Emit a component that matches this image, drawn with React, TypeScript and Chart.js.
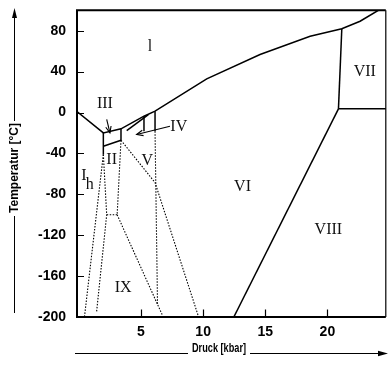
import React, { useEffect, useRef } from 'react';
import { Chart, registerables } from 'chart.js';

Chart.register(...registerables);

type P = [number, number];

// axis ticks
const xTickValues = [5, 10, 15, 20];
const yTickValues = [-200, -160, -120, -80, -40, 0, 40, 80];

// solid phase boundaries (pressure kbar, temperature °C)
const meltingCurve: P[] = [[-0.15, 1], [1.97, -19.9], [3.39, -15.9], [5.24, -3.6], [6.13, 1.3], [10.29, 33.0], [14.58, 56.7], [18.61, 74.6], [21.16, 81.9], [22.63, 89.3], [24.1, 100]];
const ihIIIBoundary: P[] = [[1.97, -19.9], [1.97, -41]];
const iiIIIBoundary: P[] = [[1.97, -33], [3.39, -27.1]];
const iiiVBoundary: P[] = [[3.39, -15.9], [3.39, -27.1]];
const vVIBoundary: P[] = [[6.13, 1.3], [6.13, -18.3]];
const ivVertical: P[] = [[5.24, -3.6], [5.24, -18.3]];
const ivDiagonal: P[] = [[3.85, -17.6], [5.59, -2.0]];
const viVIIBoundary: P[] = [[21.16, 81.9], [20.89, 3.6]];
const viiVIIIBoundary: P[] = [[20.89, 3.6], [24.8, 3.6]];
const viVIIIBoundary: P[] = [[20.89, 3.6], [12.47, -200]];

// dotted (metastable) boundaries
const dottedA: P[] = [[1.97, -41], [0.45, -200]];
const dottedB: P[] = [[1.97, -41], [2.24, -100], [1.43, -194.6]];
const dottedBox: P[] = [[2.24, -100], [3.08, -100]];
const dottedC: P[] = [[3.39, -27.1], [3.08, -100]];
const dottedD: P[] = [[3.08, -100], [6.75, -199]];
const dottedEG: P[] = [[3.39, -27.1], [6.13, -68.5], [9.61, -199]];
const dottedF: P[] = [[6.13, -18.3], [6.33, -188]];

// arrows (from, to)
const arrowIII: P[] = [[2.24, -6.8], [2.5, -19.9]];
const arrowIV: P[] = [[7.33, -13.4], [4.65, -21.5]];

// region labels: text, pressure, temperature
const labelTexts = ['l', 'III', 'IV', 'II', 'V', 'I', 'h', 'VI', 'VII', 'VIII', 'IX'];
const labelP = [5.72, 2.1, 8.04, 2.64, 5.5, 0.41, 0.87, 13.17, 23.01, 20.08, 3.57];
const labelT = [65.5, 9.3, -13.4, -45, -46.5, -60.6, -69.4, -72.1, 40.6, -113.9, -170];

const solidLines = [meltingCurve, ihIIIBoundary, iiIIIBoundary, iiiVBoundary, vVIBoundary, ivVertical, ivDiagonal, viVIIBoundary, viiVIIIBoundary, viVIIIBoundary];
const dottedLines = [dottedA, dottedB, dottedBox, dottedC, dottedD, dottedEG, dottedF];
const arrowLines = [arrowIII, arrowIV];

const toXY = (pts: P[]) => pts.map(([x, y]) => ({ x, y }));

const overlay = {
  id: 'overlay',
  afterDatasetsDraw(chart: any) {
    const { ctx, chartArea: a, scales } = chart;
    const xs = scales.x;
    const ys = scales.y;
    ctx.save();
    ctx.strokeStyle = '#000';
    ctx.fillStyle = '#000';
    ctx.setLineDash([]);

    // frame
    ctx.lineWidth = 2;
    ctx.beginPath();
    ctx.moveTo(a.right, a.top);
    ctx.lineTo(a.left, a.top);
    ctx.lineTo(a.left, a.bottom);
    ctx.lineTo(a.right, a.bottom);
    ctx.stroke();
    ctx.lineWidth = 1.2;
    ctx.beginPath();
    ctx.moveTo(a.right, a.top);
    ctx.lineTo(a.right, a.bottom);
    ctx.stroke();

    // inner ticks
    ctx.lineWidth = 1.2;
    ctx.beginPath();
    for (const v of yTickValues) {
      const py = Math.round(ys.getPixelForValue(v)) + 0.5;
      ctx.moveTo(a.left, py);
      ctx.lineTo(a.left + 7, py);
    }
    for (const v of xTickValues) {
      const px = Math.round(xs.getPixelForValue(v)) + 0.5;
      ctx.moveTo(px, a.bottom);
      ctx.lineTo(px, a.bottom - 7.5);
    }
    ctx.stroke();

    // arrowheads
    ctx.lineWidth = 1.1;
    for (const ar of arrowLines) {
      const [p0, p1] = [ar[ar.length - 2], ar[ar.length - 1]];
      const x0 = xs.getPixelForValue(p0[0]), y0 = ys.getPixelForValue(p0[1]);
      const x1 = xs.getPixelForValue(p1[0]), y1 = ys.getPixelForValue(p1[1]);
      const ang = Math.atan2(y1 - y0, x1 - x0);
      const L = 7, w = 0.4;
      ctx.beginPath();
      ctx.moveTo(x1 - L * Math.cos(ang - w), y1 - L * Math.sin(ang - w));
      ctx.lineTo(x1, y1);
      ctx.lineTo(x1 - L * Math.cos(ang + w), y1 - L * Math.sin(ang + w));
      ctx.stroke();
    }

    // region labels
    ctx.font = '16px "Liberation Serif", "DejaVu Serif", serif';
    ctx.textAlign = 'center';
    ctx.textBaseline = 'middle';
    ctx.fillStyle = '#111';
    labelTexts.forEach((t, i) => {
      ctx.fillText(t, xs.getPixelForValue(labelP[i]), ys.getPixelForValue(labelT[i]) + 1);
    });

    // y axis title with arrow line
    ctx.fillStyle = '#000';
    ctx.lineWidth = 1;
    ctx.beginPath();
    ctx.moveTo(14.5, 313);
    ctx.lineTo(14.5, 216);
    ctx.moveTo(14.5, 121);
    ctx.lineTo(14.5, 16);
    ctx.stroke();
    ctx.beginPath();
    ctx.moveTo(14.5, 8);
    ctx.lineTo(12, 18);
    ctx.lineTo(17, 18);
    ctx.closePath();
    ctx.fill();
    ctx.save();
    ctx.translate(14.5, 168);
    ctx.rotate(-Math.PI / 2);
    ctx.font = 'bold 12px "Liberation Sans", Arial, sans-serif';
    ctx.textAlign = 'center';
    ctx.textBaseline = 'middle';
    ctx.fillText('Temperatur [°C]', 0, 0, 90);
    ctx.restore();

    // x axis title with arrow line
    ctx.beginPath();
    ctx.moveTo(75, 353.5);
    ctx.lineTo(188, 353.5);
    ctx.moveTo(250, 353.5);
    ctx.lineTo(380, 353.5);
    ctx.stroke();
    ctx.beginPath();
    ctx.moveTo(388, 353.5);
    ctx.lineTo(378, 350.8);
    ctx.lineTo(378, 356.2);
    ctx.closePath();
    ctx.fill();
    ctx.font = 'bold 12px "Liberation Sans", Arial, sans-serif';
    ctx.textAlign = 'center';
    ctx.textBaseline = 'middle';
    ctx.fillText('Druck [kbar]', 219, 349, 54);

    ctx.restore();
  },
};

export default function App() {
  const ref = useRef<HTMLCanvasElement>(null);
  useEffect(() => {
    const datasets: any[] = [];
    for (const l of solidLines) {
      datasets.push({ data: toXY(l), borderColor: '#000', borderWidth: 1.5, pointRadius: 0, fill: false, tension: 0 });
    }
    for (const l of dottedLines) {
      datasets.push({ data: toXY(l), borderColor: '#000', borderWidth: 1.1, borderDash: [1.5, 1.5], pointRadius: 0, fill: false, tension: 0 });
    }
    for (const l of arrowLines) {
      datasets.push({ data: toXY(l), borderColor: '#000', borderWidth: 1.1, pointRadius: 0, fill: false, tension: 0 });
    }
    const tickFont = { family: '"Liberation Sans", Arial, sans-serif', size: 14, weight: 'bold' as const };
    const chart = new Chart(ref.current!, {
      type: 'line',
      data: { datasets },
      options: {
        responsive: false,
        animation: false,
        layout: { padding: { top: 10.3, right: 2.2, left: 0, bottom: 0 } },
        plugins: { legend: { display: false }, tooltip: { enabled: false } },
        scales: {
          x: {
            type: 'linear',
            min: -0.15,
            max: 24.7,
            grid: { display: false, drawTicks: false },
            border: { display: false },
            afterBuildTicks: (s: any) => { s.ticks = xTickValues.map((v) => ({ value: v })); },
            afterFit: (s: any) => { s.height = 48; s.paddingLeft = 0; s.paddingRight = 0; },
            ticks: { padding: 7, font: tickFont, color: '#000', autoSkip: false, maxRotation: 0 },
          },
          y: {
            type: 'linear',
            min: -200,
            max: 100,
            grid: { display: false, drawTicks: false },
            border: { display: false },
            afterBuildTicks: (s: any) => { s.ticks = yTickValues.map((v) => ({ value: v })); },
            afterFit: (s: any) => { s.width = 77; s.paddingTop = 0; s.paddingBottom = 0; },
            ticks: { padding: 11, font: tickFont, color: '#000', autoSkip: false },
          },
        },
      },
      plugins: [overlay],
    });
    return () => chart.destroy();
  }, []);
  return (
    <div style={{ position: 'fixed', left: 0, top: 0, width: 388, height: 365, background: '#fff' }}>
      <canvas ref={ref} width={388} height={365} style={{ display: 'block' }} />
    </div>
  );
}
